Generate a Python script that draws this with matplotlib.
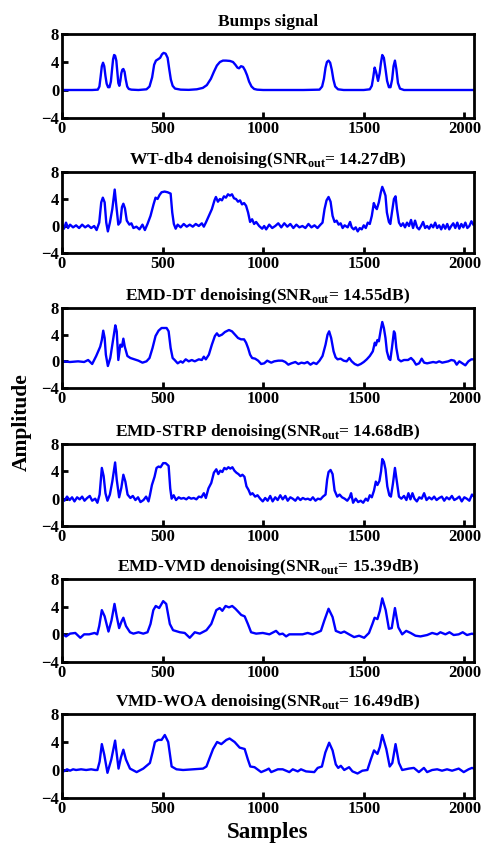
import numpy as np
import matplotlib
matplotlib.use('agg')
import matplotlib.pyplot as plt

# ---- data (sample index, amplitude) ----
bumps_x = [0, 150, 178, 186, 192, 198, 204, 210, 216, 222, 229, 236, 243, 249, 254, 259, 264,
           270, 275, 280, 285, 290, 295, 300, 305, 311, 317, 324, 332, 345, 380, 420, 435, 448,
           458, 467, 478, 488, 497, 505, 515, 525, 533, 541, 550, 562, 590, 630, 670, 700, 720,
           740, 755, 770, 785, 800, 815, 835, 850, 862, 872, 880, 890, 900, 910, 920, 930, 942,
           955, 970, 1000, 1200, 1280, 1293, 1302, 1310, 1317, 1325, 1333, 1341, 1349, 1358,
           1372, 1400, 1500, 1530, 1540, 1547, 1554, 1561, 1571, 1579, 1585, 1592, 1600, 1608,
           1616, 1625, 1633, 1641, 1648, 1655, 1662, 1670, 1680, 1700, 1800, 2048]
bumps_y = [0.0, 0.0, 0.05, 0.5, 1.9, 3.4, 3.9, 3.4, 2.0, 0.9, 0.4, 0.4, 1.2, 3.0, 4.4, 5.0,
           4.9, 4.2, 2.6, 1.0, 0.6, 1.3, 2.4, 2.9, 3.0, 2.6, 1.5, 0.5, 0.15, 0.05, 0.0, 0.1, 0.5,
           1.8, 3.6, 4.2, 4.4, 4.6, 5.1, 5.3, 5.2, 4.6, 3.0, 1.5, 0.6, 0.2, 0.05, 0.02, 0.1, 0.3,
           0.7, 1.6, 2.6, 3.5, 4.0, 4.2, 4.2, 4.15, 4.0, 3.6, 3.2, 3.1, 3.4, 3.3, 2.8, 2.1, 1.2,
           0.5, 0.15, 0.05, 0.0, 0.0, 0.05, 0.5, 1.6, 3.2, 4.0, 4.2, 3.9, 2.9, 1.5, 0.5, 0.1, 0.0,
           0.0, 0.1, 0.6, 1.8, 3.2, 2.6, 1.3, 2.4, 3.8, 5.0, 4.6, 3.0, 1.3, 0.4, 0.4, 1.5, 3.4,
           4.2, 3.0, 1.0, 0.2, 0.0, 0.0, 0.0]

wt_x = [0, 10, 20, 30, 40, 55, 70, 85, 100, 115, 130, 145, 160, 172, 185, 195, 203, 212, 220,
        228, 238, 250, 262, 270, 280, 290, 298, 305, 313, 322, 335, 345, 355, 370, 385, 400,
        412, 425, 440, 455, 465, 475, 485, 495, 510, 525, 540, 548, 556, 565, 575, 590, 605,
        620, 635, 650, 665, 680, 695, 705, 715, 730, 745, 758, 765, 775, 785, 795, 805, 815,
        825, 835, 845, 855, 865, 875, 885, 895, 905, 915, 925, 935, 945, 955, 965, 980, 995,
        1005, 1015, 1030, 1045, 1060, 1075, 1090, 1105, 1120, 1135, 1150, 1165, 1180, 1195,
        1210, 1225, 1240, 1255, 1270, 1285, 1295, 1305, 1315, 1325, 1335, 1345, 1355, 1365,
        1375, 1385, 1395, 1405, 1420, 1432, 1440, 1450, 1460, 1470, 1480, 1490, 1500, 1510,
        1520, 1530, 1540, 1550, 1558, 1565, 1575, 1585, 1592, 1600, 1608, 1615, 1625, 1632,
        1640, 1650, 1658, 1665, 1675, 1685, 1695, 1705, 1715, 1725, 1735, 1745, 1755, 1765,
        1775, 1785, 1795, 1805, 1815, 1825, 1835, 1845, 1855, 1865, 1875, 1885, 1895, 1905,
        1915, 1925, 1935, 1945, 1955, 1965, 1975, 1985, 1995, 2005, 2015, 2025, 2035, 2045]
wt_y = [0.3, -0.4, 0.5, -0.3, 0.2, -0.2, 0.1, -0.3, 0.2, -0.2, 0.1, -0.3, 0.0, -0.6, 0.5, 3.5,
        4.2, 3.5, 0.5, -0.8, 0.5, 2.5, 5.4, 3.0, 0.2, 0.6, 2.8, 3.3, 2.6, 0.8, 0.2, 0.4, -0.3,
        -0.1, -0.5, 0.2, -0.6, 0.3, 1.5, 3.2, 4.2, 4.0, 4.6, 5.0, 5.1, 5.0, 4.8, 2.0, 0.3, -0.4,
        0.2, -0.2, 0.3, -0.1, 0.2, -0.1, 0.3, 0.0, 0.4, -0.1, 0.5, 1.5, 2.5, 3.8, 4.3, 3.6, 4.0,
        3.8, 4.4, 4.2, 4.7, 4.5, 4.7, 4.1, 4.0, 3.6, 3.8, 3.2, 3.4, 3.0, 2.0, 0.6, 1.0, 0.3, 0.6,
        0.0, -0.4, 0.0, -0.5, 0.2, -0.3, 0.0, 0.4, -0.2, 0.4, -0.1, 0.3, -0.3, 0.2, -0.2, 0.0,
        -0.3, 0.3, -0.2, 0.1, -0.3, 0.2, 0.5, 2.5, 3.8, 4.3, 3.6, 1.5, 0.6, 0.8, 0.2, 0.4, -0.3,
        0.1, -0.2, 0.6, -0.2, -0.5, -0.2, -0.8, -0.3, -0.5, 0.1, -0.3, 0.5, 0.3, 1.5, 3.4, 2.8,
        2.5, 3.5, 5.0, 5.8, 5.2, 4.5, 2.0, 0.6, 0.3, 2.0, 4.0, 4.4, 2.5, 0.5, 0.0, 0.4, -0.2,
        0.5, 0.0, 0.9, -0.3, 0.8, -0.2, -0.5, 0.0, 0.6, -0.3, 0.0, -0.4, 0.2, -0.2, 0.5, -0.3,
        0.1, -0.5, 0.2, -0.4, 0.3, -0.5, 0.0, 0.4, -0.3, 0.5, -0.4, 0.3, -0.2, 0.5, -0.3, 0.0,
        0.7, 0.2]

dt_x = [0, 40, 80, 110, 130, 150, 170, 180, 190, 198, 205, 212, 218, 228, 240, 250, 258, 265,
        272, 280, 290, 298, 305, 312, 325, 340, 360, 380, 400, 420, 435, 450, 465, 480, 495,
        510, 520, 530, 540, 550, 560, 575, 590, 600, 615, 630, 645, 660, 680, 695, 705, 715,
        730, 745, 760, 770, 780, 795, 810, 830, 845, 860, 875, 890, 905, 915, 925, 935, 945,
        960, 975, 990, 1005, 1020, 1040, 1055, 1075, 1095, 1110, 1125, 1140, 1160, 1175, 1190,
        1205, 1220, 1235, 1250, 1265, 1280, 1295, 1310, 1320, 1328, 1338, 1350, 1360, 1370,
        1385, 1400, 1415, 1428, 1440, 1455, 1470, 1485, 1500, 1515, 1530, 1545, 1555, 1560,
        1568, 1575, 1585, 1592, 1600, 1608, 1615, 1625, 1632, 1640, 1650, 1655, 1662, 1672,
        1685, 1700, 1720, 1735, 1748, 1760, 1775, 1788, 1800, 1815, 1830, 1845, 1860, 1875,
        1890, 1905, 1920, 1935, 1950, 1962, 1975, 1990, 2005, 2020, 2035, 2048]
dt_y = [0.0, -0.1, 0.0, -0.1, 0.2, -0.4, 0.8, 1.5, 2.2, 3.2, 4.6, 3.5, 1.0, -0.7, 0.5, 2.5,
        4.2, 5.4, 4.5, 0.2, 2.5, 2.2, 3.4, 2.2, 0.8, 0.5, 0.3, 0.1, -0.2, 0.0, 0.5, 2.0, 3.8,
        4.6, 5.0, 5.0, 5.0, 4.5, 2.0, 0.5, 0.2, -0.3, 0.0, -0.2, 0.3, 0.0, 0.2, 0.0, 0.3, 0.2,
        0.7, 0.3, 1.0, 2.5, 3.8, 4.2, 3.8, 4.0, 4.4, 4.7, 4.5, 4.0, 3.5, 3.3, 3.3, 2.8, 2.0,
        1.0, 0.5, 0.4, 0.1, -0.4, -0.3, 0.1, -0.2, 0.0, 0.1, 0.1, -0.1, -0.5, -0.3, -0.1, -0.4,
        -0.2, -0.3, -0.1, -0.5, -0.2, -0.4, 0.1, 0.8, 2.5, 4.0, 4.5, 3.5, 1.5, 0.6, 0.3, 0.4,
        0.1, 0.0, 0.5, 0.0, -0.4, -0.6, -0.4, -0.1, 0.3, 0.8, 1.5, 2.8, 2.4, 3.2, 3.0, 4.8,
        5.9, 5.0, 3.5, 1.5, 0.4, 0.2, 2.0, 4.5, 4.2, 2.0, 0.3, 0.0, 0.2, 0.2, 0.5, 0.1, -0.5,
        -0.3, 0.4, -0.2, -0.3, -0.2, -0.1, -0.2, 0.0, -0.2, -0.1, 0.0, 0.2, 0.1, -0.5, 0.0,
        -0.3, -0.6, 0.0, 0.3, 0.3]

strp_x = [0, 12, 25, 38, 50, 62, 75, 88, 100, 112, 125, 138, 150, 165, 176, 187, 198, 207,
          216, 226, 238, 250, 264, 272, 284, 295, 305, 315, 326, 340, 352, 365, 378, 390, 405,
          418, 430, 437, 447, 460, 470, 480, 490, 503, 515, 530, 538, 545, 555, 567, 580, 592,
          605, 618, 630, 642, 655, 668, 680, 693, 705, 715, 728, 742, 755, 767, 777, 787, 797,
          807, 817, 827, 837, 847, 857, 867, 877, 887, 897, 907, 917, 927, 937, 947, 960, 972,
          985, 998, 1010, 1022, 1035, 1047, 1060, 1072, 1085, 1097, 1110, 1122, 1135, 1147, 1160,
          1172, 1185, 1197, 1210, 1222, 1235, 1247, 1260, 1272, 1285, 1297, 1310, 1318, 1325,
          1335, 1345, 1355, 1368, 1380, 1392, 1405, 1418, 1430, 1437, 1447, 1460, 1472, 1485,
          1497, 1510, 1520, 1530, 1540, 1551, 1560, 1568, 1578, 1586, 1592, 1600, 1608, 1617,
          1627, 1635, 1645, 1655, 1664, 1675, 1687, 1700, 1712, 1722, 1732, 1742, 1752, 1764,
          1776, 1788, 1800, 1812, 1825, 1838, 1850, 1862, 1875, 1888, 1900, 1912, 1925, 1938,
          1950, 1962, 1975, 1987, 2000, 2012, 2025, 2038, 2048]
strp_y = [0.1, -0.3, 0.3, -0.2, 0.2, -0.4, 0.2, -0.1, 0.3, -0.3, 0.1, 0.4, -0.3, 0.0, -0.6,
          0.6, 4.5, 3.3, 0.8, -0.3, 0.6, 2.5, 5.3, 2.8, 0.2, 1.6, 3.5, 2.5, 0.6, 0.1, 0.4, -0.2,
          0.2, -0.5, -0.2, 0.3, -0.4, 0.5, 2.0, 3.2, 4.5, 4.7, 4.6, 5.2, 5.2, 4.8, 1.5, 0.0, 0.5,
          -0.2, 0.2, 0.0, 0.1, -0.1, 0.2, 0.0, 0.1, -0.1, 0.3, 0.2, 0.8, 0.1, 1.5, 2.3, 3.8, 4.3,
          3.6, 4.1, 3.9, 4.5, 4.3, 4.6, 4.4, 4.6, 4.1, 3.8, 3.6, 3.3, 3.5, 3.2, 1.8, 1.3, 0.6,
          0.8, 0.3, 0.5, 0.0, -0.4, 0.1, -0.3, 0.4, -0.4, 0.2, -0.2, 0.5, -0.1, 0.4, -0.3, 0.2,
          0.0, -0.3, 0.2, -0.2, 0.1, -0.1, 0.0, -0.2, 0.2, -0.3, 0.0, -0.1, 0.3, 0.6, 2.8, 3.9,
          4.2, 3.6, 1.2, 0.3, 0.6, 0.2, 0.0, -0.3, 0.2, 0.8, -0.6, 0.0, -0.5, -0.3, -0.6, 0.0,
          -0.3, 0.5, 0.2, 1.2, 2.5, 2.0, 2.6, 4.0, 5.8, 5.4, 4.3, 1.8, 0.5, 0.3, 2.2, 4.5, 2.6,
          0.3, 0.0, 0.4, -0.2, 0.8, -0.1, 0.8, 0.0, -0.4, 0.2, 0.0, 0.8, -0.2, 0.2, -0.1, 0.3,
          -0.2, 0.1, 0.3, -0.3, 0.2, -0.1, 0.4, -0.2, 0.0, 0.3, -0.4, 0.2, 0.0, -0.3, 0.6, 0.3]

vmd_x = [0, 20, 40, 66, 91, 110, 135, 162, 175, 185, 198, 212, 231, 246, 261, 272, 284, 295,
         305, 318, 338, 355, 380, 404, 425, 440, 454, 466, 483, 503, 518, 536, 552, 586, 610,
         635, 660, 685, 718, 742, 767, 784, 797, 813, 830, 846, 862, 875, 891, 908, 924, 940,
         965, 998, 1031, 1064, 1081, 1097, 1114, 1130, 1163, 1196, 1221, 1246, 1271, 1287,
         1304, 1325, 1345, 1361, 1386, 1403, 1427, 1452, 1477, 1502, 1526, 1543, 1554, 1568,
         1580, 1592, 1609, 1625, 1639, 1655, 1672, 1691, 1711, 1733, 1757, 1782, 1815, 1840,
         1865, 1881, 1906, 1926, 1947, 1972, 1992, 2013, 2038, 2048]
vmd_y = [0.1, -0.3, 0.1, 0.2, -0.5, 0.0, 0.0, 0.2, 0.0, 1.2, 3.5, 2.6, 0.4, 2.0, 4.4, 2.6,
         0.9, 1.8, 2.4, 1.2, 0.3, 0.1, 0.3, 0.1, 0.3, 1.5, 3.5, 4.1, 3.8, 4.8, 4.4, 1.5, 0.6,
         0.3, 0.2, -0.5, 0.3, 0.1, 0.6, 1.5, 3.5, 3.8, 3.4, 4.1, 3.9, 4.1, 3.7, 3.3, 2.8, 2.6,
         1.5, 0.3, 0.1, 0.2, 0.0, 0.5, 0.0, 0.1, -0.3, 0.0, 0.0, 0.0, 0.2, 0.0, 0.3, 0.5, 2.0,
         3.7, 2.5, 0.5, 0.2, 0.4, 0.0, -0.4, -0.2, -0.5, 0.2, 1.5, 2.4, 2.2, 3.4, 5.2, 3.5, 0.8,
         0.9, 3.8, 1.0, 0.0, 0.5, 0.2, -0.2, -0.3, -0.1, 0.2, 0.0, 0.3, 0.0, 0.3, -0.1, 0.0,
         0.3, -0.1, 0.1, 0.0]

woa_x = [0, 8, 25, 40, 55, 70, 95, 120, 145, 165, 176, 187, 198, 210, 226, 245, 264, 281,
         293, 305, 318, 338, 371, 404, 437, 450, 462, 478, 495, 511, 528, 545, 569, 602, 652,
         701, 718, 735, 751, 771, 792, 817, 833, 858, 883, 908, 924, 936, 957, 990, 1015, 1028,
         1040, 1073, 1097, 1130, 1147, 1172, 1188, 1213, 1254, 1271, 1292, 1309, 1328, 1345,
         1361, 1373, 1386, 1403, 1427, 1444, 1469, 1493, 1518, 1535, 1551, 1568, 1580, 1592,
         1612, 1629, 1642, 1658, 1675, 1691, 1724, 1749, 1774, 1799, 1815, 1840, 1865, 1889,
         1914, 1939, 1972, 1997, 2021, 2038, 2048]
woa_y = [0.1, -0.2, 0.1, -0.1, 0.1, 0.0, 0.1, 0.0, 0.1, 0.0, 0.0, 1.2, 3.7, 2.2, -0.4, 1.5,
         4.2, 0.2, 1.8, 2.9, 1.5, 0.2, -0.3, 0.2, 1.0, 2.5, 4.0, 4.3, 4.3, 5.0, 4.0, 0.5, 0.1,
         0.0, 0.1, 0.2, 0.5, 1.8, 3.0, 4.0, 3.7, 4.3, 4.5, 4.0, 3.2, 3.0, 1.5, 0.5, 0.4, -0.3,
         0.0, 0.2, -0.3, 0.1, 0.1, -0.3, 0.1, -0.2, 0.1, -0.2, -0.3, 0.3, 0.5, 2.5, 3.9, 2.8,
         0.8, 0.3, 0.6, 0.0, 0.4, -0.2, -0.5, -0.1, 0.0, 1.5, 2.8, 2.3, 3.3, 5.0, 3.0, 0.5, 1.0,
         3.7, 1.0, 0.0, 0.2, 0.3, -0.3, 0.3, -0.3, 0.0, 0.1, -0.1, 0.1, -0.1, 0.2, -0.3, 0.1,
         0.3, 0.2]

series = [(bumps_x, bumps_y), (wt_x, wt_y), (dt_x, dt_y),
          (strp_x, strp_y), (vmd_x, vmd_y), (woa_x, woa_y)]
titles = ['Bumps signal',
          r'WT-db4 denoising(SNR$_{\mathrm{out}}$= 14.27dB)',
          r'EMD-DT denoising(SNR$_{\mathrm{out}}$= 14.55dB)',
          r'EMD-STRP denoising(SNR$_{\mathrm{out}}$= 14.68dB)',
          r'EMD-VMD denoising(SNR$_{\mathrm{out}}$= 15.39dB)',
          r'VMD-WOA denoising(SNR$_{\mathrm{out}}$= 16.49dB)']

plt.rcParams['font.family'] = 'Liberation Serif'
plt.rcParams['font.weight'] = 'bold'
plt.rcParams['mathtext.fontset'] = 'custom'
plt.rcParams['mathtext.rm'] = 'Liberation Serif:bold'
plt.rcParams['mathtext.bf'] = 'Liberation Serif:bold'

W, H = 482, 847
fig = plt.figure(figsize=(W / 100, H / 100), dpi=100)
# pixel rows of each panel (top, bottom)
rows = [(34, 118), (172, 253), (308, 388), (444, 526), (579, 662), (714, 798)]
left, right = 62, 474

for (top, bot), (x, y), title in zip(rows, series, titles):
    ax = fig.add_axes([left / W, 1 - bot / H, (right - left) / W, (bot - top) / H])
    ax.plot(x, y, color='#0000ff', lw=1.7)
    ax.set_xlim(0, 2048)
    ax.set_ylim(-4, 8)
    ax.set_xticks([0, 500, 1000, 1500, 2000])
    ax.set_yticks([-4, 0, 4, 8])
    ax.tick_params(direction='in', length=4, width=2, labelsize=12, pad=2)
    for s in ax.spines.values():
        s.set_linewidth(2)
    ax.set_title(title, fontsize=12.5, fontweight='bold', pad=6)

fig.text(22 / W, 1 - 422 / H, 'Amplitude', rotation=90, ha='center', va='center',
         fontsize=15.5, fontweight='bold')
fig.text((left + right) / 2 / W, 1 - 832 / H, 'Samples', ha='center', va='center',
         fontsize=16.5, fontweight='bold')

fig.savefig('out.png', dpi=100)
